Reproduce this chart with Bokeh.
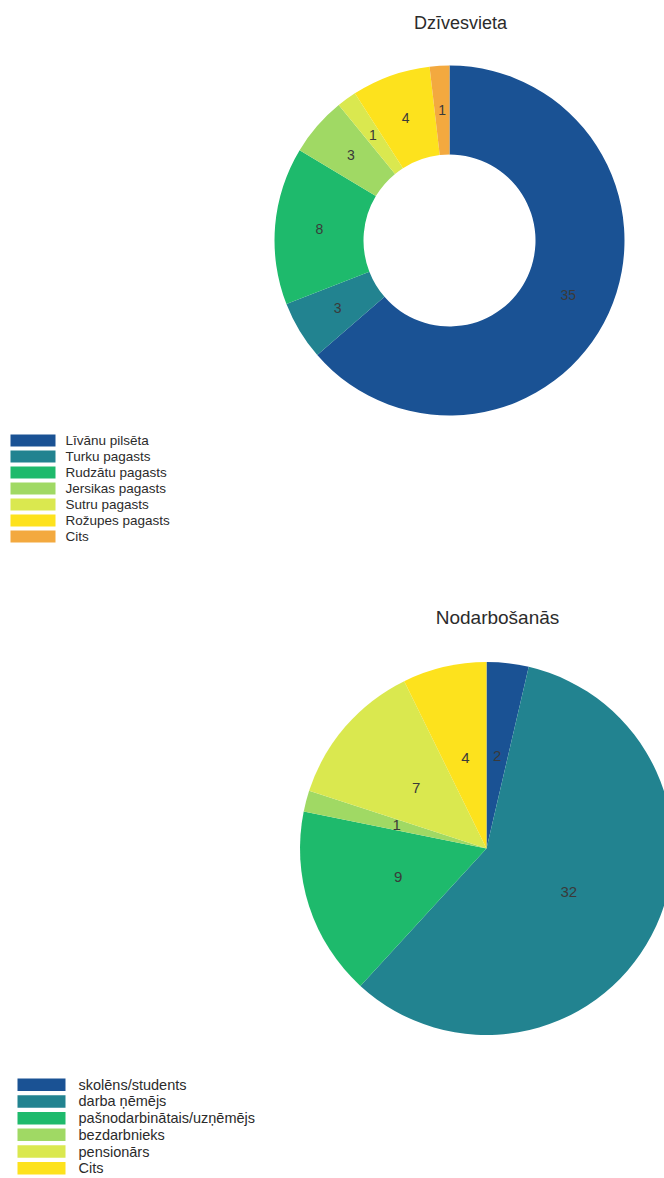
import numpy as np
from bokeh.plotting import figure
from bokeh.models import Range1d, ColumnDataSource
from bokeh.core.properties import value
from bokeh.embed import file_html
from bokeh.resources import INLINE

# ---- data ----
res_title = "Dzīvesvieta"
res_labels = ["Līvānu pilsēta", "Turku pagasts", "Rudzātu pagasts", "Jersikas pagasts",
              "Sutru pagasts", "Rožupes pagasts", "Cits"]
res_values = [35, 3, 8, 3, 1, 4, 1]

occ_title = "Nodarbošanās"
occ_labels = ["skolēns/students", "darba ņēmējs", "pašnodarbinātais/uzņēmējs",
              "bezdarbnieks", "pensionārs", "Cits"]
occ_values = [2, 32, 9, 1, 7, 4]

palette = ["#1A5294", "#228390", "#1EBA6C", "#A0D964", "#DAE84F", "#FDE21D", "#F3A93F"]

W, H = 664, 1178
FONT = "Liberation Sans"


def Y(sy):
    # screen pixel -> data y (y up)
    return H - sy


p = figure(width=W, height=H, output_backend="svg", toolbar_location=None,
           x_range=Range1d(0, W), y_range=Range1d(0, H),
           x_axis_location=None, y_axis_location=None, min_border=0)
p.grid.visible = False
p.outline_line_color = None
p.background_fill_color = "white"
p.border_fill_color = "white"


def draw_chart(title, labels, values, colors, cx, cy, r_out, r_in, lab_r, lab_size,
               title_xy, title_size, leg_x, leg_y0, leg_w, leg_h, leg_step, leg_text_x, leg_size):
    vals = np.array(values, dtype=float)
    total = vals.sum()
    cum = np.concatenate([[0], np.cumsum(vals)])
    start = np.pi / 2 - 2 * np.pi * cum[:-1] / total
    end = np.pi / 2 - 2 * np.pi * cum[1:] / total
    mid = np.pi / 2 - 2 * np.pi * (cum[:-1] + vals / 2) / total
    src = ColumnDataSource(dict(start=start, end=end, color=colors,
                                lx=cx + lab_r * np.cos(mid), ly=Y(cy) + lab_r * np.sin(mid),
                                txt=[str(v) for v in values]))
    if r_in > 0:
        p.annular_wedge(x=cx, y=Y(cy), inner_radius=r_in, outer_radius=r_out,
                        start_angle="start", end_angle="end", direction="clock",
                        fill_color="color", line_color=None, source=src)
    else:
        p.wedge(x=cx, y=Y(cy), radius=r_out,
                start_angle="start", end_angle="end", direction="clock",
                fill_color="color", line_color=None, source=src)
    p.text(x="lx", y="ly", text="txt", source=src, text_align="center",
           text_baseline="middle", text_font=value(FONT), text_font_size=lab_size,
           text_color="#3a3a3a")
    p.text(x=[title_xy[0]], y=[Y(title_xy[1])], text=[title], text_align="center",
           text_baseline="middle", text_font=value(FONT), text_font_size=title_size,
           text_color="#2b2b2b")
    n = len(labels)
    rows = np.arange(n)
    ycent = leg_y0 + leg_step * rows + leg_h / 2
    lsrc = ColumnDataSource(dict(x=[leg_x + leg_w / 2] * n, y=Y(ycent), color=colors,
                                 tx=[leg_text_x] * n, label=labels))
    p.rect(x="x", y="y", width=leg_w, height=leg_h, fill_color="color",
           line_color=None, source=lsrc)
    p.text(x="tx", y="y", text="label", source=lsrc, text_align="left",
           text_baseline="middle", text_font=value(FONT), text_font_size=leg_size,
           text_color="#2b2b2b")


draw_chart(res_title, res_labels, res_values, palette[:len(res_values)],
           cx=449, cy=240, r_out=175, r_in=86, lab_r=130.5, lab_size="14px",
           title_xy=(460, 22.5), title_size="18px",
           leg_x=10, leg_y0=434, leg_w=45, leg_h=12, leg_step=16, leg_text_x=65,
           leg_size="13.5px")

draw_chart(occ_title, occ_labels, occ_values, palette[:len(occ_values)],
           cx=486, cy=848, r_out=186.5, r_in=0, lab_r=93, lab_size="15px",
           title_xy=(497, 617), title_size="19px",
           leg_x=17, leg_y0=1078, leg_w=48, leg_h=12.5, leg_step=16.7, leg_text_x=78,
           leg_size="14.5px")

open("out.html", "w").write(file_html(p, INLINE))
